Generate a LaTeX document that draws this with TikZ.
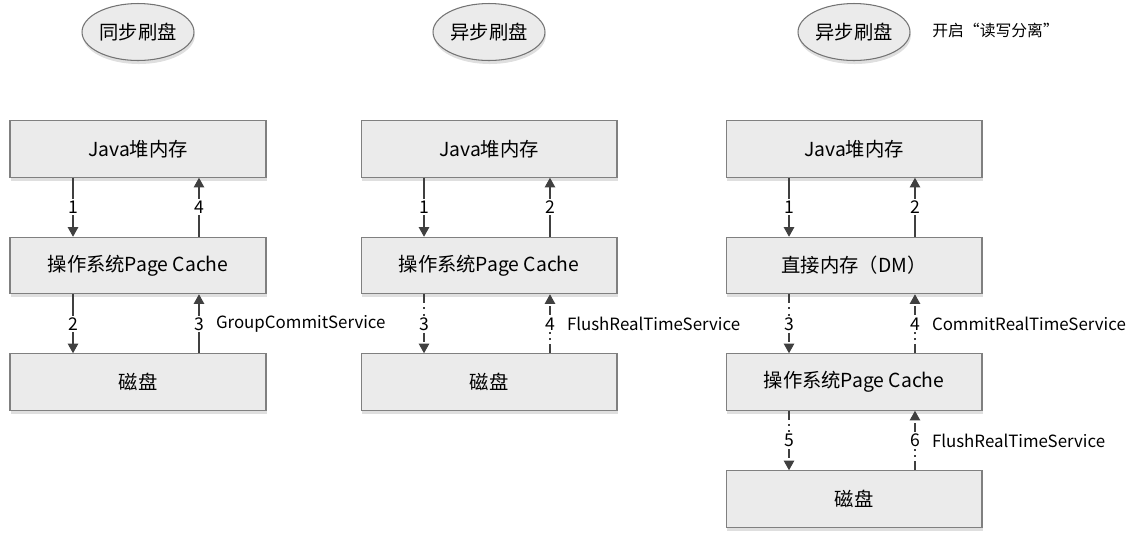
\documentclass[tikz,border=0pt]{standalone}
\usepackage{fontspec}
\setmainfont{Noto Sans CJK SC}
\usetikzlibrary{shapes.geometric,shadows,arrows.meta}

\begin{document}
\begin{tikzpicture}[x=0.02cm, y=-0.02cm,
  shade/.style={drop shadow={shadow xshift=0.5pt, shadow yshift=-2pt, opacity=0.25}},
  box/.style={draw=black!50, fill=black!8, line width=0.6pt, shade,
    minimum width=5.12cm, minimum height=1.13cm, font=\fontsize{11}{13}\selectfont},
  title/.style={ellipse, draw=black!55, fill=black!8, line width=0.6pt, shade, inner sep=0pt,
    minimum width=2.24cm, minimum height=1.14cm, font=\fontsize{11}{13}\selectfont},
  flow/.style={draw=black!75, line width=0.6pt, -{Triangle[length=5.5pt,width=6pt]}},
  async/.style={flow, dash pattern=on 5pt off 2.5pt on 1pt off 2.5pt},
  num/.style={fill=white, inner sep=1pt, font=\fontsize{10}{12}\selectfont},
  svc/.style={anchor=west, inner sep=0pt, xshift=0.33cm, font=\fontsize{9.6}{12}\selectfont}]
  \useasboundingbox (0,0) rectangle (1134,539);
  % -=-=-=-=- TITLES -=-=-=-=-
  \node[title] (sync) at (138,32) {同步刷盘};
  \node[title] (async) at (489,32) {异步刷盘};
  \node[title] (split) at (854,32) {异步刷盘};
  \node[anchor=west, inner sep=0pt, font=\fontsize{9}{11}\selectfont] (note) at (932,30) {开启“读写分离”};
  % -=-=-=-=- SYNC FLUSH -=-=-=-=-
  \node[box] (java1) at (138,149) {Java堆内存};
  \node[box] (pc1) at (138,265.5) {操作系统Page Cache};
  \node[box] (disk1) at (138,382) {磁盘};
  \draw[flow] ([xshift=-1.3cm]java1.south) -- node[num] {1} ([xshift=-1.3cm]pc1.north);
  \draw[flow] ([xshift=1.22cm]pc1.north) -- node[num] {4} ([xshift=1.22cm]java1.south);
  \draw[flow] ([xshift=-1.3cm]pc1.south) -- node[num] {2} ([xshift=-1.3cm]disk1.north);
  \draw[flow] ([xshift=1.22cm]disk1.north) -- node[num] {3} node[svc] {GroupCommitService} ([xshift=1.22cm]pc1.south);
  % -=-=-=-=- ASYNC FLUSH -=-=-=-=-
  \node[box] (java2) at (489,149) {Java堆内存};
  \node[box] (pc2) at (489,265.5) {操作系统Page Cache};
  \node[box] (disk2) at (489,382) {磁盘};
  \draw[flow] ([xshift=-1.3cm]java2.south) -- node[num] {1} ([xshift=-1.3cm]pc2.north);
  \draw[flow] ([xshift=1.22cm]pc2.north) -- node[num] {2} ([xshift=1.22cm]java2.south);
  \draw[async] ([xshift=-1.3cm]pc2.south) -- node[num] {3} ([xshift=-1.3cm]disk2.north);
  \draw[async] ([xshift=1.22cm]disk2.north) -- node[num] {4} node[svc] {FlushRealTimeService} ([xshift=1.22cm]pc2.south);
  % -=-=-=-=- ASYNC FLUSH WITH READ/WRITE SPLIT -=-=-=-=-
  \node[box] (java3) at (854,149) {Java堆内存};
  \node[box] (dm3) at (854,265.5) {直接内存（DM）};
  \node[box] (pc3) at (854,382) {操作系统Page Cache};
  \node[box] (disk3) at (854,499) {磁盘};
  \draw[flow] ([xshift=-1.3cm]java3.south) -- node[num] {1} ([xshift=-1.3cm]dm3.north);
  \draw[flow] ([xshift=1.22cm]dm3.north) -- node[num] {2} ([xshift=1.22cm]java3.south);
  \draw[async] ([xshift=-1.3cm]dm3.south) -- node[num] {3} ([xshift=-1.3cm]pc3.north);
  \draw[async] ([xshift=1.22cm]pc3.north) -- node[num] {4} node[svc] {CommitRealTimeService} ([xshift=1.22cm]dm3.south);
  \draw[async] ([xshift=-1.3cm]pc3.south) -- node[num] {5} ([xshift=-1.3cm]disk3.north);
  \draw[async] ([xshift=1.22cm]disk3.north) -- node[num] {6} node[svc] {FlushRealTimeService} ([xshift=1.22cm]pc3.south);
\end{tikzpicture}
\end{document}
